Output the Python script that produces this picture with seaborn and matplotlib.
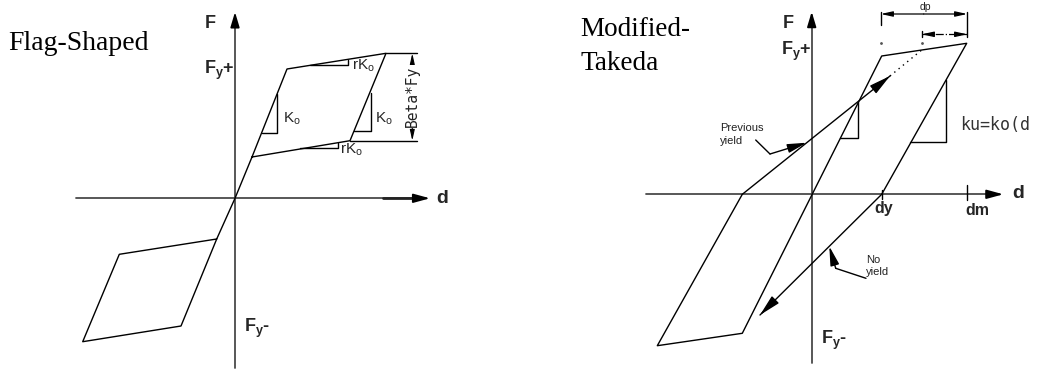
import numpy as np
import pandas as pd
import matplotlib
matplotlib.use("Agg")
import matplotlib.pyplot as plt
import seaborn as sns

# ---------------- data (panel units; origin = axis crossing) ----------------
# Flag-shaped hysteresis loop (d, F)
flag_d = [17, 115, 151, 52, 17, 0, -18.3, -115.7, -152.3, -54, -18.3]
flag_F = [41.3, 57.6, 145, 129.3, 41.3, 0, -40.7, -56, -143.4, -127.7, -40.7]

# Modified-Takeda loop (d, F)
takeda_d = [70, 155, 70, -69.4, -154.4, -69.4]
takeda_F = [0, 151, 138.3, -139, -151.4, 0]
prev_yield_d = [-69.4, 78.3]          # reloading toward previous yield
prev_yield_F = [0, 118.3]
prev_dotted_d = [78.3, 110]
prev_dotted_F = [118.3, 144.3]
no_yield_d = [70, -51.7]              # unloading, no yield
no_yield_F = [0, -120.7]

# slope triangles: (d_top, F_top, d_left, F_bottom)
flag_tri_K = [(42.3, 104.3, 26.7, 65.0), (135.7, 105.0, 119.3, 67.6)]
flag_tri_rK = [(113.3, 138.8, 75.0, 133.3), (103.3, 55.6, 65.0, 50.0)]
takeda_tri = [(46.6, 92.6, 28.3, 56.0), (134.3, 114.3, 98.3, 52.0)]

sns.set_theme(style="white")
plt.rcParams["font.family"] = ["Liberation Sans", "DejaVu Sans"]
plt.rcParams["mathtext.fontset"] = "custom"
plt.rcParams["mathtext.rm"] = "Liberation Sans"
plt.rcParams["mathtext.bf"] = "Liberation Sans:bold"

fig = plt.figure(figsize=(10.37, 3.69), dpi=100)
axL = fig.add_axes([0, 0, 1, 1])
axR = fig.add_axes([0, 0, 1, 1])
axR.patch.set_alpha(0)
axL.set_xlim(-235, 802)
axL.set_ylim(-170.7, 198.3)
axR.set_xlim(-811.7, 225.3)
axR.set_ylim(-174.7, 194.3)
for ax in (axL, axR):
    ax.set_axis_off()

AX_C = "#4a4a4a"
LN = dict(color="black", lw=1.0)


def arrow(ax, start, end, lw=1.0, hl=0.8, hw=0.25, ms=10, color="black", style="-|>"):
    ax.annotate("", xy=end, xytext=start,
                arrowprops=dict(arrowstyle=f"{style},head_length={hl},head_width={hw}",
                                color=color, lw=lw, mutation_scale=ms,
                                shrinkA=0, shrinkB=0))


def axes_cross(ax, xmin, xmax, ymin, ymax, thick_from):
    ax.plot([0, 0], [ymin, ymax - 6], color=AX_C, lw=1.3)
    arrow(ax, (0, ymax - 8), (0, ymax), lw=1.3, hl=1.0, hw=0.3, ms=9, color="black")
    ax.plot([xmin, xmax - 6], [0, 0], color=AX_C, lw=1.3)
    ax.plot([thick_from, xmax - 8], [0, 0], color="#222222", lw=2.0)
    arrow(ax, (xmax - 14, 0), (xmax, 0), lw=1.3, hl=1.1, hw=0.3, ms=9, color="black")


FY_PLUS = r"$\mathbf{F}_{\mathbf{y}}$+"
FY_MINUS = r"$\mathbf{F}_{\mathbf{y}}$-"
KO = r"$\mathrm{K}_{\mathrm{o}}$"
RKO = r"$\mathrm{rK}_{\mathrm{o}}$"
BOLD = dict(fontweight="bold", ha="center", va="center")

# ---------------- Flag-shaped panel ----------------
axes_cross(axL, -159, 195, -170, 186.3, 148)
df_flag = pd.DataFrame({"d": flag_d, "F": flag_F})
sns.lineplot(data=df_flag, x="d", y="F", sort=False, estimator=None, ax=axL, **LN)

for dt, ft, dl, fb in flag_tri_K + flag_tri_rK:
    axL.plot([dl, dt, dt], [fb, fb, ft], **LN)

# Beta*Fy dimension
axL.plot([151, 181.7], [145, 145], **LN)
axL.plot([115, 181.7], [57.6, 57.6], **LN)
arrow(axL, (177.3, 101.6), (177.3, 145), lw=0.8, hl=0.9, hw=0.2, ms=7)
arrow(axL, (177.3, 101.6), (177.3, 57.6), lw=0.8, hl=0.9, hw=0.2, ms=7)
axL.text(177.3, 101.6, "Beta*Fy", rotation=90, ha="center", va="center",
         fontsize=10.5, family="DejaVu Sans Mono", color="#222222",
         bbox=dict(facecolor="white", edgecolor="none", pad=0.5))

axL.text(-235 + 8, 198.3 - 43, "Flag-Shaped", family="Liberation Serif",
         fontsize=20, ha="left", va="center", color="black")
axL.text(-25, 175.3, "F", fontsize=13, **BOLD)
axL.text(207, 0, "d", fontsize=14, **BOLD)
axL.text(-16, 128.3, FY_PLUS, fontsize=13, **BOLD)
axL.text(22.5, -129.7, FY_MINUS, fontsize=13, **BOLD)
axL.text(48, 79.3, KO, fontsize=11, ha="left", va="center")
axL.text(140, 79.3, KO, fontsize=11, ha="left", va="center")
axL.text(117, 133.0, RKO, fontsize=11, ha="left", va="center")
axL.text(105, 48.3, RKO, fontsize=11, ha="left", va="center")

# ---------------- Modified-Takeda panel ----------------
axes_cross(axR, -165.7, 191.6, -169, 182.6, 180)
df_tak = pd.DataFrame({"d": takeda_d, "F": takeda_F})
sns.lineplot(data=df_tak, x="d", y="F", sort=False, estimator=None, ax=axR, **LN)
axR.plot(prev_yield_d, prev_yield_F, **LN)
arrow(axR, (prev_yield_d[1] - 12, prev_yield_F[1] - 9.6), (prev_yield_d[1], prev_yield_F[1]),
      hl=1.3, hw=0.3, ms=10)
axR.plot(prev_dotted_d, prev_dotted_F, color="black", lw=1.0, ls=(0, (1, 3)))
axR.plot(no_yield_d, no_yield_F, **LN)
arrow(axR, (no_yield_d[1] + 10, no_yield_F[1] + 10), (no_yield_d[1], no_yield_F[1]),
      hl=1.3, hw=0.3, ms=10)

for dt, ft, dl, fb in takeda_tri:
    axR.plot([dl, dt, dt], [fb, fb, ft], **LN)

# axis ticks dy, dm
axR.plot([70, 70], [4.5, -5], **LN)
axR.plot([155, 155], [9.3, -5.7], **LN)

# dp dimensions
axR.plot([69, 69], [182.6, 169.3], **LN)
axR.plot([155.6, 155.6], [182.6, 157.6], **LN)
arrow(axR, (112, 180.3), (69, 180.3), lw=0.9, hl=1.0, hw=0.22, ms=7)
arrow(axR, (112, 180.3), (155.6, 180.3), lw=0.9, hl=1.0, hw=0.22, ms=7)
axR.plot([110, 110], [163, 157.6], **LN)
axR.plot([110, 155.6], [160, 160], color="black", lw=0.9, ls="-.")
arrow(axR, (118, 160), (110, 160), lw=0.9, hl=1.0, hw=0.22, ms=7)
arrow(axR, (148, 160), (155.6, 160), lw=0.9, hl=1.0, hw=0.22, ms=7)
axR.plot([69, 110], [151, 151.3], ls="none", marker="o", ms=1.0, color="#555555")
axR.text(113.3, 187.3, "dp", fontsize=7.5, ha="center", va="center", color="#222222")

# leaders
axR.plot([-56, -41.7], [54.3, 40.3], **LN)
arrow(axR, (-41.7, 40.3), (-5, 51.6), hl=1.3, hw=0.3, ms=9)
axR.plot([54.3, 24], [-84, -74], **LN)
arrow(axR, (24, -74), (17.6, -52), hl=1.3, hw=0.3, ms=9)
axR.text(-92, 60, "Previous\nyield", fontsize=8, ha="left", va="center",
         linespacing=1.3, color="#222222")
axR.text(54.3, -71.5, "No\nyield", fontsize=8, ha="left", va="center",
         linespacing=1.3, color="#222222")

axR.text(148.3, 69.3, "ku=ko(d", fontsize=12, family="DejaVu Sans Mono",
         ha="left", va="center", color="#333333")

axR.text(-811.7 + 580.7, 194.3 - 17, "Modified-\nTakeda", family="Liberation Serif",
         fontsize=19.5, ha="left", va="top", linespacing=1.45, color="black")
axR.text(-23.4, 171, "F", fontsize=13, **BOLD)
axR.text(206, 1, "d", fontsize=14, **BOLD)
axR.text(71.6, -14, "dy", fontsize=11.5, **BOLD)
axR.text(165.6, -16.4, "dm", fontsize=11.5, **BOLD)
axR.text(-15, 142.6, FY_PLUS, fontsize=13, **BOLD)
axR.text(22.3, -145.7, FY_MINUS, fontsize=13, **BOLD)

fig.savefig("out.png", dpi=100)
